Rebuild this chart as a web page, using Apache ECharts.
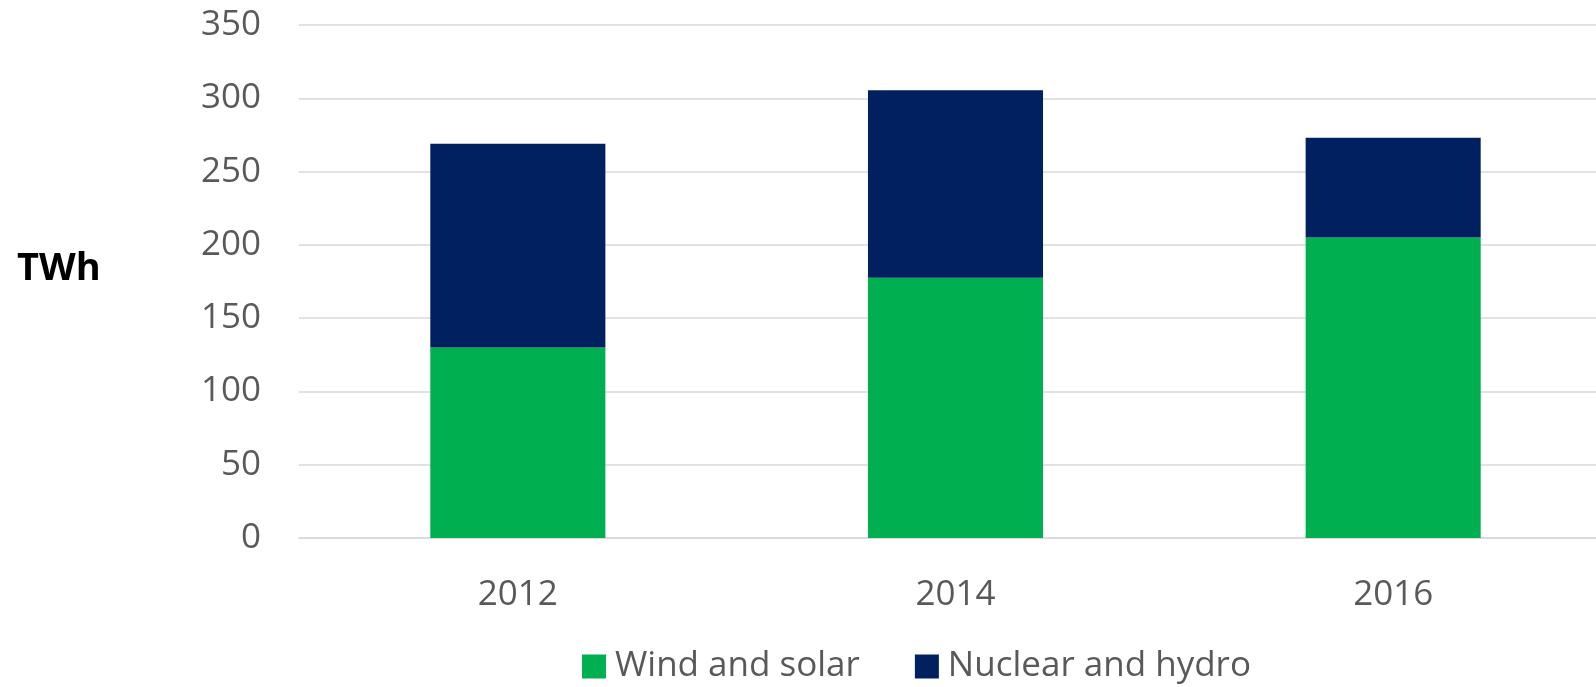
<!DOCTYPE html>
<html>
<head>
<meta charset="utf-8">
<script src="https://cdn.jsdelivr.net/npm/echarts@6/dist/echarts.min.js"></script>
<style>
  html, body { margin: 0; padding: 0; background: #fff; overflow: hidden; }
  #chart { width: 1596px; height: 687px; }
</style>
</head>
<body>
<div id="chart"></div>
<script>
const years = ['2012', '2014', '2016'];
const windSolar = [130, 177.5, 205];
const nuclearHydro = [139, 128, 68];
const yTicks = {min: 0, max: 350, interval: 50};

const font = "'Open Sans', 'Noto Sans', sans-serif";

option = {
    backgroundColor: '#fff',
    animation: false,
    textStyle: {fontFamily: font},
    grid: {
        left: 299,
        width: 1313,
        top: 25,
        bottom: 149,
        outerBoundsMode: 'none',
    },
    legend: {
        left: 582,
        top: 649,
        padding: 0,
        itemWidth: 24,
        itemHeight: 24,
        itemGap: 55,
        icon: 'rect',
        textStyle: {fontSize: 35, color: '#595959', fontFamily: font, padding: [0, 0, 0, 4]},
        data: ['Wind and solar', 'Nuclear and hydro'],
    },
    graphic: [{
        type: 'text',
        left: 17,
        top: 250,
        style: {
            text: 'TWh',
            fontSize: 38,
            fontWeight: 'bold',
            fill: '#000',
            fontFamily: font,
        },
    }],
    xAxis: {
        type: 'category',
        data: years,
        axisLine: {show: true, lineStyle: {color: '#d9d9d9', width: 1.5}},
        axisTick: {show: false},
        axisLabel: {fontSize: 35, color: '#595959', margin: 40},
    },
    yAxis: {
        type: 'value',
        min: yTicks.min,
        max: yTicks.max,
        interval: yTicks.interval,
        axisLine: {show: false},
        axisTick: {show: false},
        axisLabel: {fontSize: 35, color: '#595959', margin: 38},
        splitLine: {lineStyle: {color: '#d9d9d9', width: 1.5}},
    },
    series: [
        {
            name: 'Wind and solar',
            type: 'bar',
            stack: 'total',
            barWidth: '40%',
            itemStyle: {color: '#00b050'},
            data: windSolar,
        },
        {
            name: 'Nuclear and hydro',
            type: 'bar',
            stack: 'total',
            barWidth: '40%',
            itemStyle: {color: '#002060'},
            data: nuclearHydro,
        },
    ],
};

dom = document.getElementById('chart');
chart = echarts.init(dom);
chart.setOption(option);
</script>
</body>
</html>
